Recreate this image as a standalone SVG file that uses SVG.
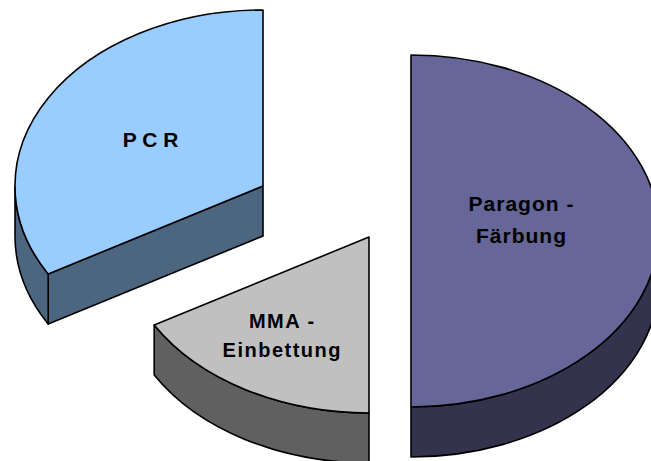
<svg xmlns="http://www.w3.org/2000/svg" width="651" height="461" viewBox="0 0 651 461">
  <style>
    .edge { stroke: #000000; stroke-width: 1.6; stroke-linejoin: round; }
    .lbl { font-family: "Liberation Sans", Arial, sans-serif; font-weight: bold; font-size: 21px; fill: #000000; text-anchor: middle; letter-spacing: 1px; }
    .pcr-top { fill: #99CCFF; }
    .pcr-side { fill: #4C6680; }
    .mma-top { fill: #C0C0C0; }
    .mma-side { fill: #606060; }
    .par-top { fill: #666699; }
    .par-side { fill: #33334D; }
  </style>
  <rect width="651" height="461" fill="#FFFFFF"/>

  <g id="slice-pcr">
    <path class="pcr-side edge" d="M263,186 L48.2,274 L48.2,324 L263,236 Z"/>
    <path class="pcr-side edge" d="M48.2,274 A248,176 0 0,1 15,186 L15,236 A248,176 0 0,0 48.2,324 Z"/>
    <path class="pcr-top edge" d="M263,186 L48.2,274 A248,176 0 0,1 263,10 Z"/>
    <text class="lbl" x="150.5" y="147" style="letter-spacing:0px">P C R</text>
  </g>

  <g id="slice-mma">
    <path class="mma-side edge" d="M369,413 A248,176 0 0,1 154.2,325 L154.2,375 A248,176 0 0,0 369,463 Z"/>
    <path class="mma-top edge" d="M369,237 L369,413 A248,176 0 0,1 154.2,325 Z"/>
    <text class="lbl" x="282.3" y="328" style="font-size:20px;letter-spacing:1.5px">MMA -</text>
    <text class="lbl" x="282.3" y="357" style="font-size:20px;letter-spacing:1.5px">Einbettung</text>
  </g>

  <g id="slice-paragon">
    <path class="par-side edge" d="M659,231 A248,176 0 0,1 411,407 L411,457 A248,176 0 0,0 659,281 Z"/>
    <path class="par-top edge" d="M411,231 L411,55 A248,176 0 0,1 659,231 A248,176 0 0,1 411,407 Z"/>
    <text class="lbl" x="521.5" y="211">Paragon -</text>
    <text class="lbl" x="521.5" y="243">Färbung</text>
  </g>

  <g id="connectors"/>
</svg>
